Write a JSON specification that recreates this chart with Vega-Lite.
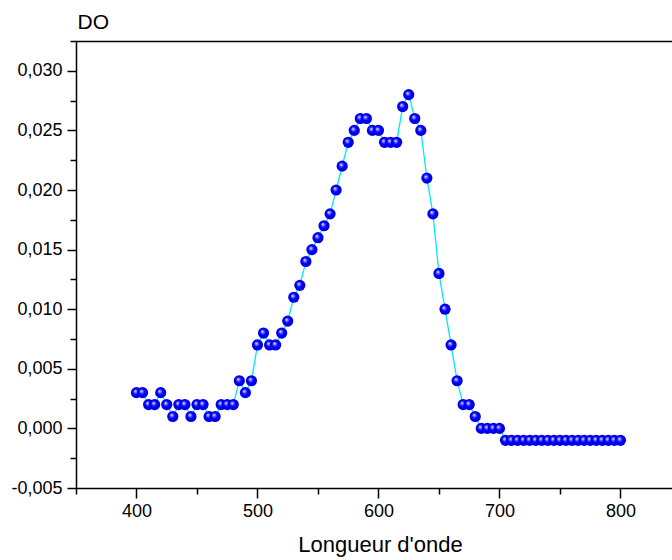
{
  "$schema": "https://vega.github.io/schema/vega-lite/v6.json",
  "width": 596,
  "height": 447,
  "autosize": "none",
  "padding": {"left": 76, "top": 41, "right": 0, "bottom": 72},
  "background": "white",
  "config": {
    "view": {"stroke": null},
    "font": "Liberation Sans",
    "axis": {
      "domainColor": "black",
      "domainWidth": 1.5,
      "tickColor": "black",
      "tickWidth": 1.5,
      "labelColor": "black",
      "titleColor": "black",
      "titleFontWeight": "normal",
      "grid": false,
      "labelOverlap": false,
      "labelFlush": false,
      "labelBound": false
    }
  },
  "data": {
    "values": [
      {"lambda": 400, "DO": 0.003}, {"lambda": 405, "DO": 0.003}, {"lambda": 410, "DO": 0.002},
      {"lambda": 415, "DO": 0.002}, {"lambda": 420, "DO": 0.003}, {"lambda": 425, "DO": 0.002},
      {"lambda": 430, "DO": 0.001}, {"lambda": 435, "DO": 0.002}, {"lambda": 440, "DO": 0.002},
      {"lambda": 445, "DO": 0.001}, {"lambda": 450, "DO": 0.002}, {"lambda": 455, "DO": 0.002},
      {"lambda": 460, "DO": 0.001}, {"lambda": 465, "DO": 0.001}, {"lambda": 470, "DO": 0.002},
      {"lambda": 475, "DO": 0.002}, {"lambda": 480, "DO": 0.002}, {"lambda": 485, "DO": 0.004},
      {"lambda": 490, "DO": 0.003}, {"lambda": 495, "DO": 0.004}, {"lambda": 500, "DO": 0.007},
      {"lambda": 505, "DO": 0.008}, {"lambda": 510, "DO": 0.007}, {"lambda": 515, "DO": 0.007},
      {"lambda": 520, "DO": 0.008}, {"lambda": 525, "DO": 0.009}, {"lambda": 530, "DO": 0.011},
      {"lambda": 535, "DO": 0.012}, {"lambda": 540, "DO": 0.014}, {"lambda": 545, "DO": 0.015},
      {"lambda": 550, "DO": 0.016}, {"lambda": 555, "DO": 0.017}, {"lambda": 560, "DO": 0.018},
      {"lambda": 565, "DO": 0.020}, {"lambda": 570, "DO": 0.022}, {"lambda": 575, "DO": 0.024},
      {"lambda": 580, "DO": 0.025}, {"lambda": 585, "DO": 0.026}, {"lambda": 590, "DO": 0.026},
      {"lambda": 595, "DO": 0.025}, {"lambda": 600, "DO": 0.025}, {"lambda": 605, "DO": 0.024},
      {"lambda": 610, "DO": 0.024}, {"lambda": 615, "DO": 0.024}, {"lambda": 620, "DO": 0.027},
      {"lambda": 625, "DO": 0.028}, {"lambda": 630, "DO": 0.026}, {"lambda": 635, "DO": 0.025},
      {"lambda": 640, "DO": 0.021}, {"lambda": 645, "DO": 0.018}, {"lambda": 650, "DO": 0.013},
      {"lambda": 655, "DO": 0.010}, {"lambda": 660, "DO": 0.007}, {"lambda": 665, "DO": 0.004},
      {"lambda": 670, "DO": 0.002}, {"lambda": 675, "DO": 0.002}, {"lambda": 680, "DO": 0.001},
      {"lambda": 685, "DO": 0.000}, {"lambda": 690, "DO": 0.000}, {"lambda": 695, "DO": 0.000},
      {"lambda": 700, "DO": 0.000}, {"lambda": 705, "DO": -0.001}, {"lambda": 710, "DO": -0.001},
      {"lambda": 715, "DO": -0.001}, {"lambda": 720, "DO": -0.001}, {"lambda": 725, "DO": -0.001},
      {"lambda": 730, "DO": -0.001}, {"lambda": 735, "DO": -0.001}, {"lambda": 740, "DO": -0.001},
      {"lambda": 745, "DO": -0.001}, {"lambda": 750, "DO": -0.001}, {"lambda": 755, "DO": -0.001},
      {"lambda": 760, "DO": -0.001}, {"lambda": 765, "DO": -0.001}, {"lambda": 770, "DO": -0.001},
      {"lambda": 775, "DO": -0.001}, {"lambda": 780, "DO": -0.001}, {"lambda": 785, "DO": -0.001},
      {"lambda": 790, "DO": -0.001}, {"lambda": 795, "DO": -0.001}, {"lambda": 800, "DO": -0.001}
    ]
  },
  "resolve": {"axis": {"x": "independent", "y": "independent"}},
  "layer": [
    {
      "mark": {"type": "line", "color": "#00e8ff", "strokeWidth": 1.3},
      "encoding": {
        "x": {
          "field": "lambda", "type": "quantitative",
          "scale": {"domain": [350, 842.6], "nice": false, "zero": false},
          "axis": {"orient": "top", "labels": false, "ticks": false, "title": null, "domain": true}
        },
        "y": {
          "field": "DO", "type": "quantitative",
          "scale": {"domain": [-0.005, 0.0325], "nice": false, "zero": false},
          "axis": null
        }
      }
    },
    {
      "mark": {
        "type": "circle",
        "size": 125,
        "opacity": 1,
        "fill": {
          "gradient": "radial",
          "x1": 0.38, "y1": 0.35, "r1": 0,
          "x2": 0.5, "y2": 0.5, "r2": 0.5,
          "stops": [
            {"offset": 0, "color": "#ffffff"},
            {"offset": 0.22, "color": "#8080ff"},
            {"offset": 0.5, "color": "#0000ff"},
            {"offset": 1, "color": "#0000d8"}
          ]
        }
      },
      "encoding": {
        "x": {
          "field": "lambda", "type": "quantitative",
          "scale": {"domain": [350, 842.6], "nice": false, "zero": false},
          "axis": {
            "orient": "bottom",
            "values": [350, 400, 450, 500, 550, 600, 650, 700, 750, 800],
            "tickSize": {"condition": {"test": "datum.value % 100 == 0", "value": 10}, "value": 6},
            "labelExpr": "datum.value % 100 == 0 ? datum.label : ''",
            "labelFontSize": 18,
            "labelPadding": 4,
            "title": "Longueur d'onde",
            "titleFontSize": 22,
            "titleX": 304,
            "titleY": 63,
            "titleAlign": "center",
            "titleBaseline": "alphabetic"
          }
        },
        "y": {
          "field": "DO", "type": "quantitative",
          "scale": {"domain": [-0.005, 0.0325], "nice": false, "zero": false},
          "axis": {
            "orient": "left",
            "values": [-0.005, -0.0025, 0, 0.0025, 0.005, 0.0075, 0.01, 0.0125, 0.015, 0.0175, 0.02, 0.0225, 0.025, 0.0275, 0.03, 0.0325],
            "tickSize": {"condition": {"test": "abs(round(datum.value*2000)) % 2 == 0", "value": 9}, "value": 6},
            "labelExpr": "abs(round(datum.value*2000)) % 2 == 0 ? replace(replace(format(datum.value, '.3f'), '.', ','), '\u2212', '-') : ''",
            "labelFontSize": 18,
            "labelPadding": 5,
            "title": "DO",
            "titleFontSize": 21,
            "titleAngle": 0,
            "titleAlign": "left",
            "titleBaseline": "alphabetic",
            "titleX": 1,
            "titleY": -13
          }
        }
      }
    }
  ]
}
